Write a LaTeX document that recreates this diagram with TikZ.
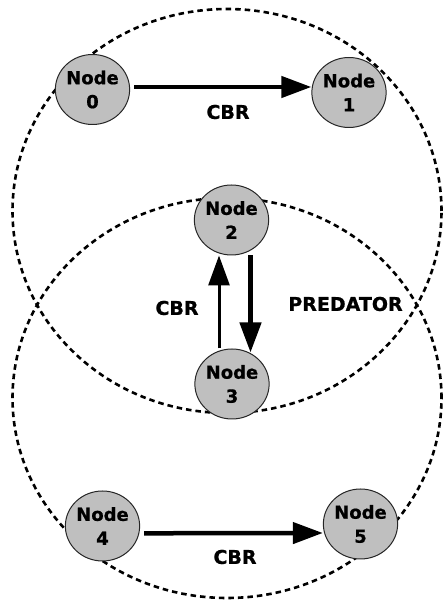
\documentclass[tikz,border=0pt]{standalone}
\usepackage{fontspec}
\setmainfont{DejaVu Sans}[BoldFeatures={FakeBold=0.8}]
\usetikzlibrary{arrows.meta,positioning,shapes.geometric}

\begin{document}
\begin{tikzpicture}[x=1pt,y=1pt,
    host/.style={ellipse,draw=black!85,line width=1pt,fill=gray!50,
      minimum width=73pt,minimum height=70pt,inner sep=0pt,align=center,
      font=\bfseries\fontsize{18}{24}\selectfont},
    lbl/.style={font=\bfseries\fontsize{19}{22}\selectfont,inner sep=0pt},
    flow/.style={line width=4.5pt,-{Triangle[length=30pt,width=21pt]}},
    radiorange/.style={line width=2.6pt,dash pattern=on 5.5pt off 4pt}]
  \useasboundingbox (0,0) rectangle (443,605);
  % radio ranges
  \draw[radiorange] (227,394) ellipse [x radius=214.5pt,y radius=202pt];
  \draw[radiorange] (227,207) ellipse [x radius=214.5pt,y radius=200pt];
  % nodes
  \node[host] (n0) at (92.5,515.5) {Node\\0};
  \node[host] (n1) at (349,512.5) {Node\\1};
  \node[host] (n2) at (231.5,385) {Node\\2};
  \node[host] (n3) at (232,221) {Node\\3};
  \node[host] (n4) at (102.5,79) {Node\\4};
  \node[host] (n5) at (360.5,81) {Node\\5};
  % flows
  \draw[flow] ([xshift=4pt,yshift=2.5pt]n0.east) -- ([yshift=5.5pt]n1.west);
  \draw[flow,line width=3pt] ([xshift=-13pt]n3.north) -- ([xshift=-12.5pt]n2.south);
  \draw[flow] ([xshift=19pt]n2.south) -- ([xshift=18.5pt,yshift=-4pt]n3.north);
  \draw[flow] ([xshift=4pt,yshift=-7.3pt]n4.east) -- ([yshift=-9pt]n5.west);
  \node[lbl] (c01) at (228,493) {CBR};
  \node[lbl] (c32) at (177,297) {CBR};
  \node[lbl] (pred) at (345.5,301) {PREDATOR};
  \node[lbl] (c45) at (235,48) {CBR};
\end{tikzpicture}
\end{document}
